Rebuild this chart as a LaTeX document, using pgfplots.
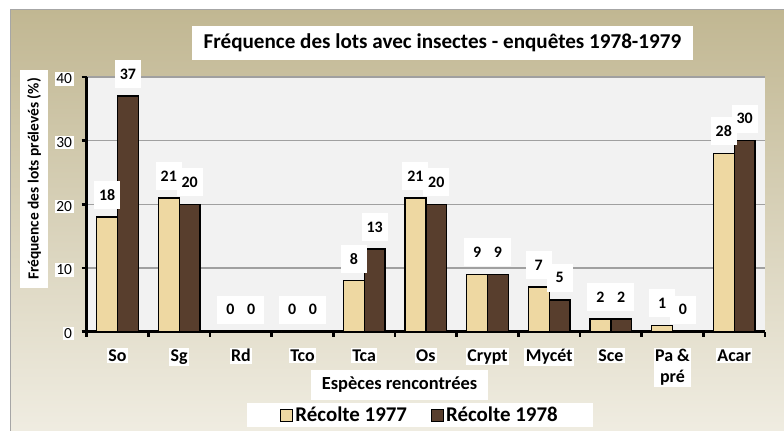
\documentclass[border=0pt]{standalone}
\usepackage{fontspec}
\setmainfont{Carlito}
\usepackage{pgfplots}
\pgfplotsset{compat=1.18}
\definecolor{bgtop}{RGB}{193,183,146}
\definecolor{bgbot}{RGB}{240,237,226}
\definecolor{plotbg}{RGB}{242,242,242}
\definecolor{gridc}{RGB}{160,160,160}
\definecolor{barA}{RGB}{238,216,162}
\definecolor{barB}{RGB}{88,62,45}
\pgfplotsset{legsq/.style={legend image code/.code={\draw[##1, line width=1bp] (0bp,-6bp) rectangle (12bp,6bp);}}}
\begin{document}
\begin{tikzpicture}[x=1bp,y=1bp]
\useasboundingbox (0,0) rectangle (784,430);
\clip (0,0) rectangle (784,430);
\fill[white] (0,0) rectangle (784,430);
\shade[top color=bgtop, bottom color=bgbot] (10,-5) rectangle (790,420);
\draw[gray!70, line width=1bp] (10,-5) -- (10,420) -- (790,420);
\node[fill=white, font=\bfseries\fontsize{21.2}{25}\selectfont, minimum height=34bp, minimum width=501bp, inner xsep=4bp] at (442.5,387) {Fréquence des lots avec insectes - enquêtes 1978-1979};
\node[fill=white, rotate=90, font=\bfseries\fontsize{15.5}{18}\selectfont, minimum height=28bp, inner xsep=8bp] at (34,251) {Fréquence des lots prélevés (\%)};
\node[fill=white, font=\bfseries\fontsize{18.5}{22}\selectfont, minimum height=30bp, minimum width=177bp] at (399.5,45) {Espèces rencontrées};
\begin{axis}[
  at={(86.7bp,98.3bp)}, anchor=south west,
  width=678.3bp, height=254.7bp, scale only axis,
  xmin=-0.5, xmax=10.5, ymin=0, ymax=40,
  ytick={0,10,20,30,40},
  xtick={-0.5,0.5,...,10.5},
  x tick label as interval,
  xticklabels={So,Sg,Rd,Tco,Tca,Os,Crypt,Mycét,Sce,{Pa \&\\pré},Acar},
  axis x line*=bottom, axis y line*=left,
  axis line style={line width=2.5bp, black, -},
  tick align=outside, major tick length=5bp,
  tick style={black, line width=2.5bp},
  ymajorgrids, grid style={gridc, line width=1.2bp},
  axis background/.style={fill=plotbg},
  /pgf/number format/assume math mode=true,
  yticklabel style={fill=white, font=\fontsize{15.5}{18}\selectfont, inner sep=1.5bp, xshift=-8bp, yshift=-2bp},
  xticklabel style={fill=white, font=\bfseries\fontsize{18}{21}\selectfont, align=center, inner sep=1.5bp, anchor=north, yshift=-11bp},
  ybar=0pt, bar width=20.8bp,
  nodes near coords,
  nodes near coords style={fill=white, font=\bfseries\fontsize{16}{18}\selectfont, anchor=center, yshift=22bp, minimum width=26bp, minimum height=28bp, inner sep=0pt, text=black},
  legend style={at={(0.4915,-0.280)}, anchor=north, legend columns=2, draw=none, fill=white,
    font=\bfseries\fontsize{21}{24}\selectfont, inner xsep=33bp, inner ysep=2bp,
    /tikz/every even column/.append style={column sep=22bp}},
]
\addplot[legsq, draw=black, line width=1.3bp, fill=barA] coordinates {(0,18) (1,21) (2,0) (3,0) (4,8) (5,21) (6,9) (7,7) (8,2) (9,1) (10,28)};
\addplot[legsq, draw=black, line width=1.3bp, fill=barB] coordinates {(0,37) (1,20) (2,0) (3,0) (4,13) (5,20) (6,9) (7,5) (8,2) (9,0) (10,30)};
\legend{Récolte 1977, Récolte 1978}
\end{axis}
\end{tikzpicture}
\end{document}
